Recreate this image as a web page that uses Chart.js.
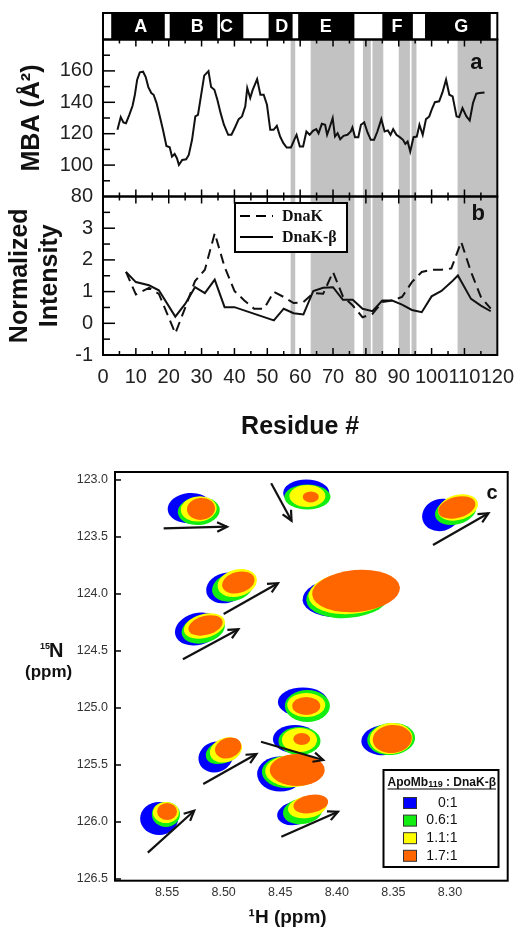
<!DOCTYPE html>
<html>
<head>
<meta charset="utf-8">
<script src="https://cdn.jsdelivr.net/npm/chart.js@4.4.1/dist/chart.umd.min.js"></script>
<style>
  html, body { margin: 0; padding: 0; background: #fff; }
  #wrap { position: relative; width: 524px; height: 929px; }
  canvas { position: absolute; left: 0; }
  #profileChart { top: 0; }
  #hsqcChart { top: 440px; }
</style>
</head>
<body>
<div id="wrap">
  <canvas id="profileChart" width="524" height="440"></canvas>
  <canvas id="hsqcChart" width="524" height="489"></canvas>
</div>
<script>
const FONT = "'Liberation Sans', Arial, sans-serif";
Chart.defaults.font.family = FONT;
Chart.defaults.color = '#222';

// ---------- panels a and b ----------
const mbaResidue = [4.4,5.4,6.2,7,8,9,9.7,10.4,11.2,12.2,13,13.8,14.7,15.4,16.3,17.3,18.3,19.3,20.3,21,21.8,22.5,23.1,24.1,25.3,26.1,27.1,28.1,28.9,29.8,30.8,32.1,32.9,33.9,34.8,35.8,36.8,38.1,39.1,40.3,41.3,42.3,43.3,43.9,44.8,45.5,46.9,47.9,48.9,49.9,50.9,51.9,52.9,53.9,54.9,55.9,57.2,58.2,58.9,59.9,60.9,61.9,62.9,63.9,64.9,65.6,66.6,67.6,68.2,68.9,69.9,70.6,71.4,72.2,73.2,74.4,75.4,75.9,76.7,77.7,78.5,79.5,80.5,81.5,82.5,83.5,84.7,85.7,86.7,87.5,88.3,89.3,90.3,91.3,92,92.7,93.5,94.5,95.5,96.3,97.3,98.3,99.3,100,101,102.3,103.3,104.4,105.4,106.4,107.6,108.4,109.4,110.6,111.6,112.6,113.6,114.6,116.1];
const mbaValue = [122.5,130.6,127.2,126.7,132,137.8,144.8,154.4,159.1,159.5,156.1,149.7,145.9,144.8,139.5,131,122,112.2,111.4,105.4,107.1,104.4,100.1,103.3,103.7,106.5,116.1,131,132,143.8,157,159.9,149.7,148,141.6,133.1,125.7,119.3,119.3,124.6,129.3,131,137.4,149.1,142.7,147.6,154.8,144.8,144.8,138.4,122.5,122.5,125,118.2,114,111.2,111.2,116.1,119.3,111.8,111.8,121.4,119.3,121.8,122.9,120.3,126.3,125.7,119.3,123.5,129.9,118.2,120.3,116.5,118.6,119.3,121.4,124,117.8,117.8,125.7,127.2,120.8,116.1,116.1,121.4,129.3,121.4,122.1,119.3,122.9,119.3,117.8,116.1,113.5,115,108.6,117.8,118.2,125.7,119.3,129.3,131,135.2,140.1,140.6,146.3,154.4,144.8,143.8,131,130.6,136.3,131,128.4,139.5,145.5,145.9,146.3];

const dnakResidue = [7,10,14,17,22,25,28,31,34,37,40,43,46,49,52,55,58,61,64,67,70,73,76,79,82,85,88,91,94,97,100,103,106,109,112,115,118];
const dnakValue = [1.62,0.91,1.12,0.93,-0.32,0.49,1.33,1.69,2.84,1.78,1.02,0.72,0.46,0.46,0.99,0.83,0.64,0.67,0.95,0.93,1.62,0.85,0.56,0.19,0.30,0.67,0.72,0.83,1.30,1.62,1.69,1.69,1.73,2.57,1.62,0.83,0.46];

const betaResidue = [7,10,14,17,22,25,28,31,34,37,40,52,55,58,61,64,67,70,73,76,79,82,85,88,91,94,97,100,103,106,108,112,115,118];
const betaValue = [1.62,1.30,1.20,1.04,0.21,0.61,1.14,0.95,1.38,0.51,0.51,0.09,0.46,0.32,0.28,1.02,1.12,1.14,0.74,0.74,0.46,0.38,0.72,0.72,0.59,0.42,0.35,0.85,1.02,1.30,1.51,0.77,0.56,0.38];

const residueTicks = [0,10,20,30,40,50,60,70,80,90,100,110,120];
const mbaTicks = [80,100,120,140,160];
const intensityTicks = [-1,0,1,2,3];

const helixNames = ['A','B','C','D','E','F','G'];
const helixStart = [2.5,20.3,35.6,50.4,59.4,85,98];
const helixEnd = [18.8,34.8,42.7,57.7,76.5,94.3,118];
const helixLabelAt = [11.5,28.7,37.6,54.4,67.8,89.5,109];

const shadeStart = [57.1,63.2,79.1,82,90,93.9,107.9];
const shadeEnd = [58.5,76.5,81.5,85.3,93.4,95.4,120];

// ---------- panel c ----------
const ratioLabels = ['0:1','0.6:1','1.1:1','1.7:1'];
const ratioColors = ['#0000ff','#12ee12','#ffff00','#ff6600'];
// [1H ppm, 15N ppm, half width 1H, half width 15N]
const peaks0 = [[8.530,123.246,0.0195,0.132],[8.427,123.114,0.0204,0.118],[8.308,123.307,0.0168,0.140],[8.498,123.947,0.0177,0.132],[8.523,124.307,0.0204,0.140],[8.395,124.026,0.0354,0.175],[8.430,124.947,0.0221,0.127],[8.437,125.272,0.0195,0.123],[8.450,125.579,0.0204,0.154],[8.507,125.430,0.0155,0.132],[8.557,125.969,0.0168,0.145],[8.437,125.925,0.0159,0.101],[8.358,125.281,0.0204,0.132]];
const peaks1 = [[8.522,123.272,0.0186,0.123],[8.426,123.149,0.0204,0.110],[8.295,123.272,0.0186,0.118],[8.492,123.939,0.0186,0.123],[8.518,124.307,0.0195,0.123],[8.390,124.026,0.0372,0.184],[8.426,124.982,0.0199,0.140],[8.433,125.289,0.0186,0.123],[8.445,125.561,0.0212,0.140],[8.500,125.382,0.0164,0.101],[8.551,125.934,0.0124,0.110],[8.430,125.904,0.0177,0.114],[8.352,125.272,0.0212,0.140]];
const peaks2 = [[8.522,123.254,0.0159,0.110],[8.426,123.140,0.0159,0.096],[8.293,123.241,0.0181,0.110],[8.488,123.904,0.0177,0.118],[8.517,124.281,0.0186,0.105],[8.387,123.991,0.0381,0.184],[8.427,124.974,0.0168,0.105],[8.433,125.281,0.0155,0.105],[8.439,125.553,0.0243,0.140],[8.498,125.368,0.0146,0.105],[8.551,125.917,0.0115,0.092],[8.426,125.868,0.0173,0.096],[8.352,125.268,0.0190,0.136]];
const peaks3 = [[8.520,123.254,0.0124,0.096],[8.423,123.149,0.0071,0.048],[8.294,123.241,0.0168,0.092],[8.487,123.899,0.0146,0.092],[8.516,124.276,0.0155,0.083],[8.383,123.974,0.0389,0.184],[8.427,124.982,0.0124,0.079],[8.431,125.272,0.0075,0.053],[8.435,125.544,0.0243,0.140],[8.496,125.351,0.0119,0.088],[8.550,125.908,0.0088,0.075],[8.423,125.842,0.0155,0.079],[8.351,125.272,0.0173,0.123]];
const peakTilt = [-5,0,-15,-15,-15,-5,0,0,0,-20,0,-10,-5];

const arrowFromH = [8.553,8.458,8.315,8.500,8.536,8.467,8.518,8.567,8.449];
const arrowFromN = [123.424,123.029,123.570,124.175,124.573,125.296,125.667,126.269,126.129];
const arrowToH = [8.497,8.440,8.266,8.452,8.487,8.412,8.471,8.526,8.399];
const arrowToN = [123.410,123.357,123.292,123.906,124.310,125.456,125.404,125.901,125.910];

const hTicks = [8.55,8.50,8.45,8.40,8.35,8.30];
const nTicks = [123.0,123.5,124.0,124.5,125.0,125.5,126.0,126.5];

function tickLine(ctx, x0, y0, x1, y1) {
  ctx.beginPath();
  ctx.moveTo(x0, y0);
  ctx.lineTo(x1, y1);
  ctx.stroke();
}

const profileDecor = {
  id: 'profileDecor',
  beforeDatasetsDraw(chart) {
    const { ctx, chartArea: ca, scales: { x } } = chart;
    ctx.save();
    ctx.fillStyle = '#c2c2c2';
    shadeStart.forEach((s, i) => {
      const x0 = x.getPixelForValue(s);
      const x1 = x.getPixelForValue(shadeEnd[i]);
      ctx.fillRect(x0, ca.top, x1 - x0, ca.bottom - ca.top);
    });
    ctx.restore();
  },
  afterDatasetsDraw(chart) {
    const { ctx, chartArea: ca, scales: { x, yA, yB } } = chart;
    const w = ca.right - ca.left;
    ctx.save();

    // helix bar above panel a
    const bandTop = 13, bandBottom = ca.top;
    ctx.fillStyle = '#fff';
    ctx.fillRect(ca.left, bandTop, w, bandBottom - bandTop);
    ctx.fillStyle = '#000';
    helixStart.forEach((s, i) => {
      const x0 = x.getPixelForValue(s);
      const x1 = x.getPixelForValue(helixEnd[i]);
      ctx.fillRect(x0, bandTop, x1 - x0, bandBottom - bandTop);
    });
    ctx.lineWidth = 2;
    ctx.strokeStyle = '#000';
    ctx.strokeRect(ca.left, bandTop, w, bandBottom - bandTop);
    ctx.fillStyle = '#fff';
    ctx.font = 'bold 18px ' + FONT;
    ctx.textAlign = 'center';
    ctx.textBaseline = 'middle';
    helixNames.forEach((n, i) => {
      ctx.fillText(n, x.getPixelForValue(helixLabelAt[i]), (bandTop + bandBottom) / 2 + 1);
    });

    // frames
    [yA, yB].forEach(s => ctx.strokeRect(ca.left, s.top, w, s.bottom - s.top));

    // inward ticks
    ctx.lineWidth = 1.5;
    for (let r = 5; r < 120; r += 5) {
      const px = x.getPixelForValue(r);
      const len = r % 10 === 0 ? 7 : 4;
      [yA, yB].forEach(s => {
        tickLine(ctx, px, s.top, px, s.top + len);
        tickLine(ctx, px, s.bottom, px, s.bottom - len);
      });
    }
    for (let v = 90; v < 180; v += 10) {
      const py = yA.getPixelForValue(v);
      tickLine(ctx, ca.left, py, ca.left + (v % 20 === 0 ? 12 : 7), py);
    }
    for (let v = -0.5; v < 4; v += 0.5) {
      const py = yB.getPixelForValue(v);
      tickLine(ctx, ca.left, py, ca.left + (Number.isInteger(v) ? 12 : 7), py);
    }

    // panel letters
    ctx.fillStyle = '#111';
    ctx.font = 'bold 22px ' + FONT;
    ctx.fillText('a', ca.right - 21, yA.top + 23);
    ctx.fillText('b', ca.right - 19, yB.top + 17);

    // legend of panel b
    const lx = ca.left + 132, ly = yB.top + 6.5, lw = 112, lh = 49;
    ctx.fillStyle = '#fff';
    ctx.fillRect(lx, ly, lw, lh);
    ctx.lineWidth = 2;
    ctx.strokeRect(lx, ly, lw, lh);
    const rows = [[chart.data.datasets[1], ly + 13], [chart.data.datasets[2], ly + 34]];
    rows.forEach(([ds, ry]) => {
      ctx.setLineDash(ds.borderDash || []);
      ctx.lineWidth = 2;
      tickLine(ctx, lx + 5, ry, lx + 38, ry);
      ctx.setLineDash([]);
      ctx.fillStyle = '#111';
      ctx.textAlign = 'left';
      ctx.font = "bold 16px 'Liberation Serif', 'Times New Roman', serif";
      ctx.fillText(ds.label, lx + 47, ry + 1);
    });
    ctx.restore();
  }
};

new Chart(document.getElementById('profileChart'), {
  type: 'line',
  data: {
    datasets: [
      {
        label: 'MBA',
        data: mbaResidue.map((r, i) => ({ x: r, y: mbaValue[i] })),
        yAxisID: 'yA',
        borderColor: '#111',
        borderWidth: 2,
        pointRadius: 0
      },
      {
        label: 'DnaK',
        data: dnakResidue.map((r, i) => ({ x: r, y: dnakValue[i] })),
        yAxisID: 'yB',
        borderColor: '#111',
        borderWidth: 2,
        borderDash: [10, 6],
        pointRadius: 0
      },
      {
        label: 'DnaK-β',
        data: betaResidue.map((r, i) => ({ x: r, y: betaValue[i] })),
        yAxisID: 'yB',
        borderColor: '#111',
        borderWidth: 2,
        pointRadius: 0
      }
    ]
  },
  options: {
    responsive: false,
    animation: false,
    layout: { padding: { top: 39.5, right: 24, left: 0, bottom: 0 } },
    plugins: { legend: { display: false }, tooltip: { enabled: false } },
    scales: {
      x: {
        type: 'linear',
        min: 0,
        max: 120,
        afterBuildTicks: s => { s.ticks = residueTicks.map(v => ({ value: v })); },
        ticks: { autoSkip: false, maxRotation: 0, minRotation: 0, padding: 10, color: '#222', font: { size: 20 } },
        grid: { display: false, drawTicks: false },
        border: { display: false },
        title: { display: true, text: 'Residue #', color: '#111', padding: 0, font: { size: 25, weight: 'bold', lineHeight: 1 } },
        afterFit: s => { s.height = 85; }
      },
      yB: {
        type: 'linear',
        position: 'left',
        stack: 'panels',
        stackWeight: 158.5,
        min: -1,
        max: 4,
        afterBuildTicks: s => { s.ticks = intensityTicks.map(v => ({ value: v })); },
        ticks: { autoSkip: false, padding: 10, color: '#222', font: { size: 20 } },
        grid: { display: false, drawTicks: false },
        border: { display: false },
        title: { display: true, text: ['Normalized', 'Intensity'], color: '#111', padding: { top: 5, bottom: 0 }, font: { size: 25, weight: 'bold' } },
        afterFit: s => { s.width = 103; }
      },
      yA: {
        type: 'linear',
        position: 'left',
        stack: 'panels',
        stackWeight: 157,
        min: 80,
        max: 180,
        afterBuildTicks: s => { s.ticks = mbaTicks.map(v => ({ value: v })); },
        ticks: { autoSkip: false, padding: 10, color: '#222', font: { size: 20 } },
        grid: { display: false, drawTicks: false },
        border: { display: false },
        title: { display: true, text: 'MBA (Å²)', color: '#111', padding: { top: 17, bottom: 0 }, font: { size: 25, weight: 'bold' } },
        afterFit: s => { s.width = 103; }
      }
    }
  },
  plugins: [profileDecor]
});

// ---------- panel c ----------
const hsqcDecor = {
  id: 'hsqcDecor',
  beforeDatasetsDraw(chart) {
    const { ctx, scales: { x, y } } = chart;
    const levels = [peaks0, peaks1, peaks2, peaks3];
    ctx.save();
    for (let p = 0; p < peakTilt.length; p++) {
      levels.forEach((lvl, k) => {
        const [h, n, rh, rn] = lvl[p];
        const cx = x.getPixelForValue(h);
        const cy = y.getPixelForValue(n);
        const rx = Math.abs(x.getPixelForValue(h - rh) - cx);
        const ry = Math.abs(y.getPixelForValue(n + rn) - cy);
        ctx.beginPath();
        ctx.ellipse(cx, cy, rx, ry, peakTilt[p] * Math.PI / 180, 0, Math.PI * 2);
        ctx.fillStyle = ratioColors[k];
        ctx.fill();
      });
    }
    ctx.restore();
  },
  afterDatasetsDraw(chart) {
    const { ctx, chartArea: ca, scales: { x, y } } = chart;
    ctx.save();
    ctx.strokeStyle = '#111';

    // arrow heads
    ctx.lineWidth = 2.2;
    arrowToH.forEach((h, i) => {
      const x0 = x.getPixelForValue(arrowFromH[i]), y0 = y.getPixelForValue(arrowFromN[i]);
      const x1 = x.getPixelForValue(h), y1 = y.getPixelForValue(arrowToN[i]);
      const ang = Math.atan2(y1 - y0, x1 - x0);
      const L = 11, spread = 0.45;
      ctx.beginPath();
      ctx.moveTo(x1 - L * Math.cos(ang - spread), y1 - L * Math.sin(ang - spread));
      ctx.lineTo(x1, y1);
      ctx.lineTo(x1 - L * Math.cos(ang + spread), y1 - L * Math.sin(ang + spread));
      ctx.stroke();
    });

    // frame and ticks
    ctx.strokeStyle = '#000';
    ctx.lineWidth = 2;
    ctx.strokeRect(ca.left, ca.top, ca.right - ca.left, ca.bottom - ca.top);
    ctx.lineWidth = 1.5;
    nTicks.forEach(v => {
      const py = y.getPixelForValue(v);
      tickLine(ctx, ca.left, py, ca.left + 6, py);
    });

    // panel letter
    ctx.fillStyle = '#111';
    ctx.font = 'bold 20px ' + FONT;
    ctx.textAlign = 'center';
    ctx.textBaseline = 'middle';
    ctx.fillText('c', 492, 53);

    // vertical axis title, written horizontally
    ctx.textAlign = 'left';
    ctx.textBaseline = 'alphabetic';
    ctx.font = 'bold 9px ' + FONT;
    ctx.fillText('15', 40, 209);
    ctx.font = 'bold 20px ' + FONT;
    ctx.fillText('N', 49, 217);
    ctx.font = 'bold 17px ' + FONT;
    ctx.fillText('(ppm)', 25, 237);

    // legend
    const lx = 383.5, ly = 330, lw = 115, lh = 97;
    ctx.fillStyle = '#fff';
    ctx.fillRect(lx, ly, lw, lh);
    ctx.lineWidth = 2;
    ctx.strokeRect(lx, ly, lw, lh);
    ctx.fillStyle = '#111';
    let tx = lx + 4;
    const ty = ly + 16;
    ctx.font = 'bold 12px ' + FONT;
    ctx.fillText('ApoMb', tx, ty);
    tx += ctx.measureText('ApoMb').width;
    ctx.font = 'bold 9px ' + FONT;
    ctx.fillText('119', tx, ty + 1);
    tx += ctx.measureText('119').width;
    ctx.font = 'bold 12px ' + FONT;
    ctx.fillText(' : DnaK-β', tx, ty);
    tx += ctx.measureText(' : DnaK-β').width;
    ctx.lineWidth = 1;
    tickLine(ctx, lx + 4, ty + 3, tx, ty + 3);

    ratioLabels.forEach((lab, k) => {
      const ry = ly + 33 + k * 17.6;
      ctx.fillStyle = ratioColors[k];
      ctx.fillRect(lx + 20, ry - 5.5, 13, 11);
      ctx.strokeStyle = '#333';
      ctx.lineWidth = 1;
      ctx.strokeRect(lx + 20, ry - 5.5, 13, 11);
      ctx.fillStyle = '#111';
      ctx.font = '14px ' + FONT;
      ctx.textAlign = 'right';
      ctx.textBaseline = 'middle';
      ctx.fillText(lab, lx + 74, ry);
      ctx.textAlign = 'left';
      ctx.textBaseline = 'alphabetic';
    });
    ctx.restore();
  }
};

new Chart(document.getElementById('hsqcChart'), {
  type: 'scatter',
  data: {
    datasets: arrowFromH.map((h, i) => ({
      label: 'shift ' + (i + 1),
      data: [{ x: h, y: arrowFromN[i] }, { x: arrowToH[i], y: arrowToN[i] }],
      showLine: true,
      borderColor: '#111',
      borderWidth: 2.2,
      pointRadius: 0
    }))
  },
  options: {
    responsive: false,
    animation: false,
    layout: { padding: { top: 32, right: 16.3, left: 0, bottom: 0 } },
    plugins: { legend: { display: false }, tooltip: { enabled: false } },
    scales: {
      x: {
        type: 'linear',
        reverse: true,
        min: 8.249,
        max: 8.596,
        afterBuildTicks: s => { s.ticks = hTicks.map(v => ({ value: v })); },
        ticks: { autoSkip: false, maxRotation: 0, padding: 4, color: '#333', font: { size: 12.5 }, callback: v => v.toFixed(2) },
        grid: { display: false, drawTicks: false },
        border: { display: false },
        title: { display: true, text: '¹H (ppm)\u2003\u2003\u2002', color: '#111', padding: 0, font: { size: 19, weight: 'bold' } },
        afterFit: s => { s.height = 48.3; }
      },
      y: {
        type: 'linear',
        reverse: true,
        min: 122.93,
        max: 126.515,
        afterBuildTicks: s => { s.ticks = nTicks.map(v => ({ value: v })); },
        ticks: { autoSkip: false, padding: 7, color: '#333', font: { size: 12.5 }, callback: v => v.toFixed(1) },
        grid: { display: false, drawTicks: false },
        border: { display: false },
        afterFit: s => { s.width = 115; }
      }
    }
  },
  plugins: [hsqcDecor]
});
</script>
</body>
</html>
